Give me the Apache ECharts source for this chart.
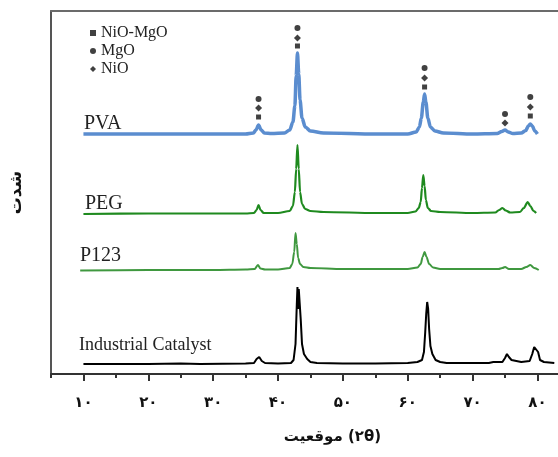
<!DOCTYPE html>
<html><head><meta charset="utf-8">
<script src="https://cdn.jsdelivr.net/npm/echarts@6/dist/echarts.min.js"></script>
<style>html,body{margin:0;padding:0;background:#fff}#c{width:558px;height:457px}</style>
</head><body><div id="c"></div>
<script>
// x tick values and Persian labels
const majorTicks = [10, 20, 30, 40, 50, 60, 70, 80];
const minorTicks = [5, 15, 25, 35, 45, 55, 65, 75];
const tickLabels = ['۱۰', '۲۰', '۳۰', '۴۰', '۵۰', '۶۰', '۷۰', '۸۰'];
const seriesNames = ['PVA', 'PEG', 'P123', 'Industrial Catalyst'];
const phaseNames = ['NiO-MgO', 'MgO', 'NiO'];

// Intensity (a.u., stacked with offsets) vs 2θ
const pvaX = [10, 20, 30, 35, 36.2, 36.6, 37.0, 37.4, 37.9, 39, 41, 41.8, 42.3, 42.6, 42.8, 43.0, 43.2, 43.4, 43.7, 44.2, 45, 47, 55, 60, 61.3, 61.8, 62.1, 62.4, 62.6, 62.8, 63.1, 63.5, 64.2, 65.5, 70, 73.8, 74.5, 75.0, 75.5, 76.2, 77.5, 78.2, 78.6, 78.9, 79.2, 79.6, 80.0];
const pvaY = [240, 240, 240, 240, 241, 244, 249, 244, 241, 240.5, 241, 244, 252, 268, 298, 321, 300, 274, 256, 247, 243, 241, 240, 240, 242, 247, 256, 272, 280, 272, 256, 247, 243, 241, 240, 240.5, 242.5, 244, 242, 240.5, 241, 243.5, 248, 250, 248, 243, 240];

const pegX = [10, 20, 30, 35, 36.3, 36.7, 37.0, 37.3, 37.8, 40, 41.8, 42.3, 42.6, 42.8, 43.0, 43.2, 43.4, 43.7, 44.2, 45, 47, 55, 60, 61.2, 61.7, 62.0, 62.2, 62.4, 62.6, 62.8, 63.1, 63.6, 65, 70, 73.5, 74.1, 74.6, 75.1, 75.8, 77.3, 77.9, 78.5, 78.9, 79.4, 79.8];
const pegY = [160, 160.5, 160.5, 160.5, 161, 164, 169, 164, 161, 161, 163, 168, 182, 205, 229, 205, 182, 170, 165, 163, 162, 161, 161, 162.5, 166, 172, 186, 199, 188, 174, 166, 163, 162, 161, 161.5, 164, 166, 163.5, 161.5, 162, 166, 172, 168, 163, 161];

const p123X = [9.5, 20, 30, 35, 36.4, 36.9, 37.3, 38, 40, 41.8, 42.2, 42.5, 42.7, 42.9, 43.1, 43.4, 43.9, 45, 50, 60, 61.5, 62.0, 62.3, 62.6, 62.9, 63.3, 63.9, 65, 74, 74.6, 75.0, 75.6, 77.5, 78.3, 78.9, 79.5, 80.2];
const p123Y = [103.5, 104, 104, 104.5, 105, 109, 105.5, 104.5, 104.5, 106, 110, 122, 141, 130, 116, 110, 107, 106, 105, 105, 106.5, 110, 117, 122, 117, 110, 106.5, 105, 105, 106, 107, 105, 105, 107, 109, 106, 104];

const indX = [10, 20, 25, 28, 35, 36.3, 36.7, 37.1, 37.5, 38, 40, 42, 42.4, 42.7, 42.9, 43.0, 43.1, 43.2, 43.35, 43.5, 43.7, 44.0, 44.5, 45, 46, 50, 55, 60, 61.5, 62.2, 62.5, 62.7, 62.85, 63.0, 63.15, 63.3, 63.5, 63.8, 64.3, 65, 66, 70, 72.5, 73.2, 74.6, 75.0, 75.3, 75.6, 76.0, 76.3, 77.5, 78.8, 79.2, 79.5, 79.8, 80.1, 80.4, 81.0, 82.6];
const indY = [10, 10, 10.5, 10, 10.5, 11, 15, 17, 13, 11, 10.5, 11, 14, 30, 70, 87, 65, 85, 87, 55, 30, 20, 15, 12, 11, 10.5, 10.5, 11, 12, 14, 22, 42, 60, 72, 65, 45, 28, 20, 14, 12, 11, 11, 11, 12, 12, 16, 20, 17, 14, 12, 12, 13, 20, 27, 29, 22, 14, 12, 11];

// Phase markers above peaks
const nioMgoX = [37.0, 43.0, 62.6, 78.9];
const nioMgoY = [257, 328, 287, 258];
const mgoX = [37.0, 43.0, 62.6, 75.0, 78.9];
const mgoY = [275, 346, 306, 260, 277];
const nioX = [37.0, 43.0, 62.6, 75.0, 78.9];
const nioY = [266, 336, 296, 251, 267];

const zip = (a, b) => a.map((v, i) => [v, b[i]]);
const chart = echarts.init(document.getElementById('c'));
const serif = '"Liberation Serif", "DejaVu Serif", serif';
const fa = '"DejaVu Sans", "Noto Sans", sans-serif';
const X_MIN = 5, X_MAX = 83.17;

function lineSeries(name, x, y, color, width, smooth) {
  return {
    name: name, type: 'line', data: zip(x, y), showSymbol: false, symbol: 'none',
    smooth: smooth, smoothMonotone: 'x',
    lineStyle: { color: color, width: width }, itemStyle: { color: color },
    z: 2, silent: true
  };
}
function markerSeries(name, x, y, symbol, size) {
  return {
    name: name, type: 'scatter', data: zip(x, y), symbol: symbol, symbolSize: size,
    itemStyle: { color: '#111' }, z: 5, silent: true
  };
}

chart.setOption({
  animation: false,
  backgroundColor: '#fff',
  grid: { left: 51, top: 11, right: 0, bottom: 83, show: false },
  legend: {
    orient: 'vertical', left: 85, top: 20, itemGap: 2, itemWidth: 6, itemHeight: 6,
    data: [
      { name: phaseNames[0], icon: 'rect' },
      { name: phaseNames[1], icon: 'circle' },
      { name: phaseNames[2], icon: 'diamond' }
    ],
    textStyle: { fontFamily: serif, fontSize: 16, color: '#222', padding: [0, 0, 0, 0] }
  },
  xAxis: [{
    type: 'value', min: X_MIN, max: X_MAX, position: 'bottom',
    axisLine: { show: true, lineStyle: { color: '#333', width: 2 } },
    axisTick: { show: true, customValues: majorTicks, length: 7, lineStyle: { color: '#333', width: 2 } },
    axisLabel: {
      customValues: majorTicks, margin: 22,
      formatter: v => tickLabels[majorTicks.indexOf(v)] || '',
      fontFamily: fa, fontWeight: 'bold', fontSize: 15, color: '#111'
    },
    splitLine: { show: false },
    name: 'موقعیت\u200E (\u200E۲θ)', nameLocation: 'middle', nameGap: 56,
    nameTextStyle: { fontFamily: fa, fontWeight: 'bold', fontSize: 15, color: '#111', padding: [0, 0, 0, 56] }
  }, {
    type: 'value', min: X_MIN, max: X_MAX, position: 'bottom',
    axisLine: { show: false },
    axisTick: { show: true, customValues: minorTicks, length: 4, lineStyle: { color: '#333', width: 2 } },
    axisLabel: { show: false }, splitLine: { show: false }
  }, {
    type: 'value', min: X_MIN, max: X_MAX, position: 'top',
    axisLine: { show: true, lineStyle: { color: '#6b6b6b', width: 2 } },
    axisTick: { show: false }, axisLabel: { show: false }, splitLine: { show: false }
  }],
  yAxis: {
    type: 'value', min: 0, max: 363,
    axisLine: { show: true, lineStyle: { color: '#555', width: 2 } },
    axisTick: { show: false }, axisLabel: { show: false }, splitLine: { show: false },
    name: 'شدت', nameLocation: 'middle', nameGap: 26, nameRotate: 90,
    nameTextStyle: { fontFamily: fa, fontWeight: 'bold', fontSize: 17, color: '#111' }
  },
  series: [
    lineSeries(seriesNames[0], pvaX, pvaY, '#5b8dcf', 3.5, 0.3),
    lineSeries(seriesNames[1], pegX, pegY, '#1f8a1f', 2.2, 0.3),
    lineSeries(seriesNames[2], p123X, p123Y, '#3f983f', 2, 0.3),
    lineSeries(seriesNames[3], indX, indY, '#000', 2, false),
    markerSeries(phaseNames[0], nioMgoX, nioMgoY, 'rect', 5),
    markerSeries(phaseNames[1], mgoX, mgoY, 'circle', 6),
    markerSeries(phaseNames[2], nioX, nioY, 'diamond', 7)
  ],
  graphic: [
    { type: 'text', left: 84, top: 114, style: { text: seriesNames[0], font: '20px ' + serif, fill: '#222' } },
    { type: 'text', left: 85, top: 194, style: { text: seriesNames[1], font: '20px ' + serif, fill: '#222' } },
    { type: 'text', left: 80, top: 246, style: { text: seriesNames[2], font: '20px ' + serif, fill: '#222' } },
    { type: 'text', left: 79, top: 336, style: { text: seriesNames[3], font: '18px ' + serif, fill: '#222' } }
  ]
});
</script></body></html>
